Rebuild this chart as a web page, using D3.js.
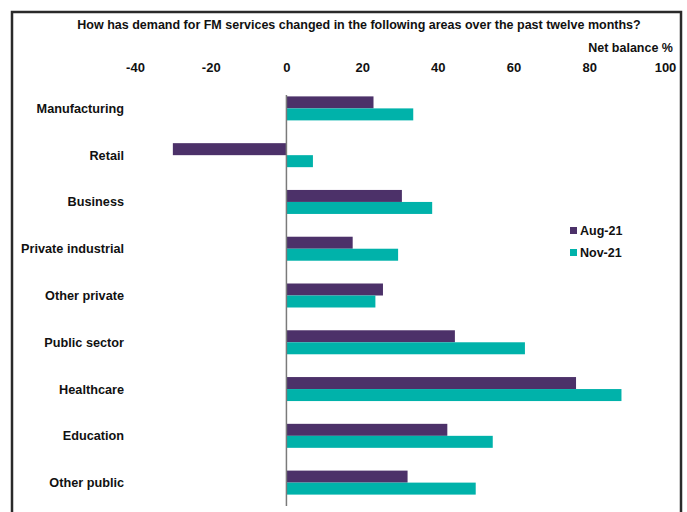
<!DOCTYPE html>
<html>
<head>
<meta charset="utf-8">
<script src="https://cdn.jsdelivr.net/npm/d3@7"></script>
<style>
  html, body { margin: 0; padding: 0; background: #fff; }
  svg { display: block; }
  text { font-family: "Liberation Sans", Arial, sans-serif; font-weight: bold; fill: #111; }
</style>
</head>
<body>
<svg id="chart" width="687" height="512"></svg>
<script>
// Sectors, top to bottom
const categories = ["Manufacturing", "Retail", "Business", "Private industrial", "Other private",
                    "Public sector", "Healthcare", "Education", "Other public"];
// Net balance %, by survey wave
const aug21 = [23, -30, 30.5, 17.5, 25.5, 44.5, 76.5, 42.5, 32];
const nov21 = [33.5, 7, 38.5, 29.5, 23.5, 63, 88.5, 54.5, 50];
const seriesNames = ["Aug-21", "Nov-21"];
const tickValues = [-40, -20, 0, 20, 40, 60, 80, 100];
const colors = ["#4c3169", "#00b2aa"];

const svg = d3.select("#chart");

// frame
svg.append("rect")
  .attr("x", 12).attr("y", 12)
  .attr("width", 669).attr("height", 520)
  .attr("fill", "none").attr("stroke", "#2a2a2a").attr("stroke-width", 2.5);

const x = d3.scaleLinear().domain([-40, 100]).range([135, 665]);
const y = d3.scaleBand().domain(categories).range([85, 506]);
const inner = d3.scaleBand().domain(seriesNames).range([0, 24]);
const barOffset = (y.bandwidth() - 24) / 2;

// title
svg.append("text")
  .attr("x", 359).attr("y", 29)
  .attr("text-anchor", "middle")
  .style("font-size", "12.5px")
  .text("How has demand for FM services changed in the following areas over the past twelve months?");

svg.append("text")
  .attr("x", 673).attr("y", 52)
  .attr("text-anchor", "end")
  .style("font-size", "12.5px")
  .text("Net balance %");

// top axis labels (plain hyphen for negatives)
const axis = d3.axisTop(x).tickValues(tickValues).tickSize(0).tickPadding(0)
  .tickFormat(d => String(d));
const gAxis = svg.append("g").attr("transform", "translate(0,72)").call(axis);
gAxis.select(".domain").remove();
gAxis.selectAll("text")
  .style("font-family", "\"Liberation Sans\", Arial, sans-serif")
  .style("font-weight", "bold")
  .style("font-size", "13px")
  .attr("fill", "#111");

// bars
const rows = categories.map((c, i) => ({ c, vals: [aug21[i], nov21[i]] }));
const gRows = svg.append("g").selectAll("g").data(rows).join("g")
  .attr("transform", d => `translate(0,${y(d.c) + barOffset})`);

gRows.selectAll("rect")
  .data(d => d.vals.map((v, k) => ({ v, k })))
  .join("rect")
  .attr("x", d => x(Math.min(0, d.v)))
  .attr("y", d => inner(seriesNames[d.k]))
  .attr("width", d => Math.abs(x(d.v) - x(0)))
  .attr("height", inner.bandwidth())
  .attr("fill", d => colors[d.k]);

// zero line
svg.append("line")
  .attr("x1", x(0)).attr("x2", x(0))
  .attr("y1", 95).attr("y2", 506)
  .attr("stroke", "#7a7a7a").attr("stroke-width", 1.5);

// category labels
svg.append("g").selectAll("text").data(categories).join("text")
  .attr("x", 124)
  .attr("y", d => y(d) + y.bandwidth() / 2)
  .attr("dy", "0.35em")
  .attr("text-anchor", "end")
  .style("font-size", "12.7px")
  .text(d => d);

// legend
const legend = svg.append("g").selectAll("g").data(seriesNames).join("g")
  .attr("transform", (d, i) => `translate(570,${227 + i * 22})`);
legend.append("rect").attr("width", 7).attr("height", 7).attr("fill", (d, i) => colors[i]);
legend.append("text")
  .attr("x", 10).attr("y", 4).attr("dy", "0.35em")
  .style("font-size", "12.5px")
  .text(d => d);
</script>
</body>
</html>
